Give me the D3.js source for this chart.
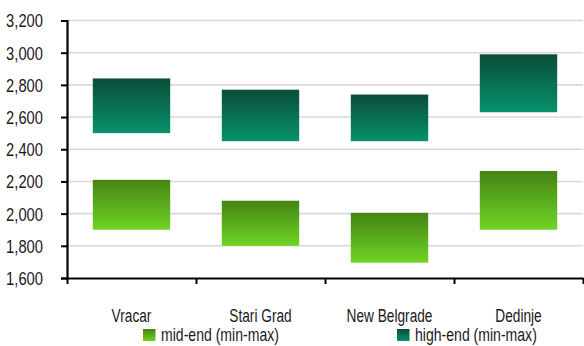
<!DOCTYPE html>
<html>
<head>
<meta charset="utf-8">
<script src="https://cdn.jsdelivr.net/npm/d3@7"></script>
<style>
  html, body { margin: 0; padding: 0; background: #fff; }
  svg { display: block; }
  text { font-family: "Liberation Sans", Arial, sans-serif; fill: #1a1a1a; }
</style>
</head>
<body>
<svg id="chart" width="584" height="346"></svg>
<script>
const categories = ["Vracar", "Stari Grad", "New Belgrade", "Dedinje"];
const midMin  = [1900, 1800, 1695, 1900];
const midMax  = [2210, 2080, 2005, 2265];
const highMin = [2500, 2450, 2450, 2630];
const highMax = [2840, 2770, 2740, 2990];
const yTicks  = [1600, 1800, 2000, 2200, 2400, 2600, 2800, 3000, 3200];
const seriesNames = ["mid-end (min-max)", "high-end (min-max)"];

const svg = d3.select("#chart");
const plotLeft = 67, plotRight = 583, plotTop = 20.5, plotBottom = 278;

const y = d3.scaleLinear().domain([1600, 3200]).range([plotBottom, plotTop]);
const x = d3.scaleBand().domain(categories).range([plotLeft, plotRight]).paddingInner(0.4).paddingOuter(0.2);
const xEdge = d3.scaleLinear().domain([0, categories.length]).range([plotLeft, plotRight]);

const defs = svg.append("defs");
function grad(id, c1, c2) {
  const g = defs.append("linearGradient").attr("id", id).attr("x1", 0).attr("y1", 0).attr("x2", 0).attr("y2", 1);
  g.append("stop").attr("offset", "0%").attr("stop-color", c1);
  g.append("stop").attr("offset", "100%").attr("stop-color", c2);
}
grad("gMid", "#458414", "#70d424");
grad("gHigh", "#0a4d38", "#07926b");

// gridlines
svg.append("g").selectAll("line").data(yTicks.slice(1)).join("line")
  .attr("x1", plotLeft).attr("x2", plotRight)
  .attr("y1", d => y(d)).attr("y2", d => y(d))
  .attr("stroke", "#d9d9d9").attr("stroke-width", 1.6);

// bars
const series = [
  { mins: midMin, maxs: midMax, fill: "url(#gMid)" },
  { mins: highMin, maxs: highMax, fill: "url(#gHigh)" }
];
series.forEach(s => {
  svg.append("g").selectAll("rect").data(categories).join("rect")
    .attr("x", d => x(d))
    .attr("width", x.bandwidth())
    .attr("y", (d, i) => y(s.maxs[i]))
    .attr("height", (d, i) => y(s.mins[i]) - y(s.maxs[i]))
    .attr("fill", s.fill);
});

// y axis
const yAxis = svg.append("g").attr("transform", `translate(${plotLeft},0)`)
  .call(d3.axisLeft(y).tickValues(yTicks).tickFormat(d3.format(",")).tickSize(6));
yAxis.attr("font-family", null).attr("font-size", null);
yAxis.select(".domain").attr("stroke", "#000").attr("stroke-width", 2.2);
yAxis.selectAll(".tick line").attr("stroke", "#000").attr("stroke-width", 2);
yAxis.selectAll(".tick text")
  .attr("font-size", 18).attr("fill", "#1a1a1a")
  .attr("x", 0).attr("dy", "0.36em")
  .attr("transform", "translate(-24,0) scale(0.82,1)");

// x axis
const xAxis = svg.append("g").attr("transform", `translate(0,${plotBottom})`)
  .call(d3.axisBottom(xEdge).tickValues(d3.range(categories.length + 1)).tickFormat("").tickSize(6).tickSizeOuter(0));
xAxis.select(".domain").attr("stroke", "#000").attr("stroke-width", 2.2);
xAxis.selectAll(".tick line").attr("stroke", "#000").attr("stroke-width", 2);

// category labels
svg.append("g").selectAll("text").data(categories).join("text")
  .attr("transform", d => `translate(${x(d) + x.bandwidth() / 2},321.5) scale(0.72,1)`)
  .attr("text-anchor", "middle")
  .attr("font-size", 19)
  .text(d => d);

// legend
const legendX = [143, 397];
const legendFills = ["url(#gMid)", "url(#gHigh)"];
const lg = svg.append("g");
seriesNames.forEach((name, i) => {
  lg.append("rect").attr("x", legendX[i]).attr("y", 329).attr("width", 12.5).attr("height", 12)
    .attr("fill", legendFills[i]);
  lg.append("text")
    .attr("transform", `translate(${legendX[i] + 18},341) scale(0.76,1)`)
    .attr("font-size", 18.5).text(name);
});
</script>
</body>
</html>
